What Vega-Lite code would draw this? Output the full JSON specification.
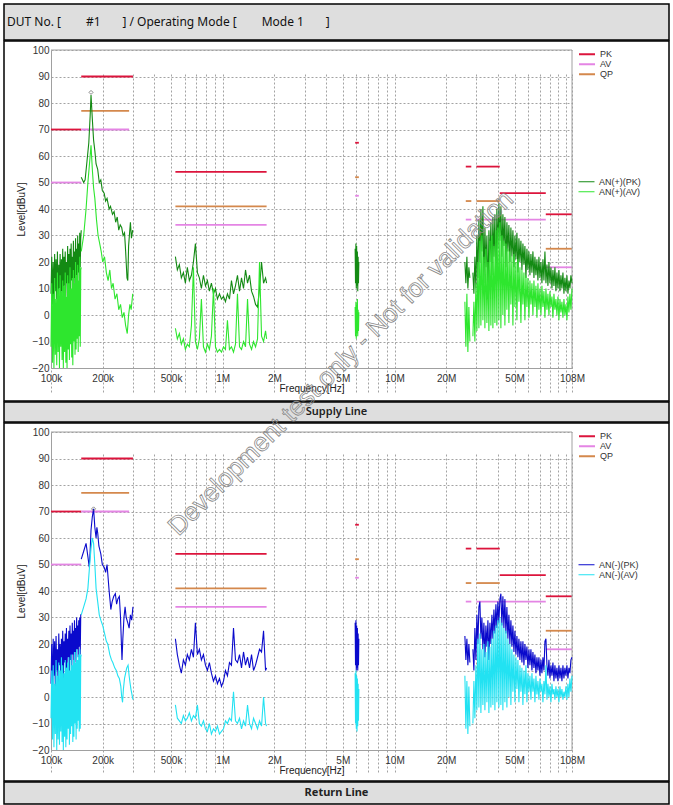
{
"$schema":"https://vega.github.io/schema/vega-lite/v6.json",
"padding":{"left":3,"top":3,"right":0,"bottom":0},
"background":"#ffffff",
"spacing":1,
"bounds":"flush",
"resolve":{"scale":{"color":"independent","stroke":"independent"},"legend":{"color":"independent","stroke":"independent"}},
"config":{"view":{"stroke":null}},
"datasets":{
"lim":[
{"k":"PK","f":100,"f2":150,"v":70},{"k":"AV","f":100,"f2":150,"v":50},
{"k":"PK","f":150,"f2":300,"v":90},{"k":"QP","f":150,"f2":285,"v":77},{"k":"AV","f":150,"f2":285,"v":70},
{"k":"PK","f":530,"f2":1800,"v":54},{"k":"QP","f":530,"f2":1800,"v":41},{"k":"AV","f":530,"f2":1800,"v":34},
{"k":"PK","f":5900,"f2":6200,"v":65},{"k":"QP","f":5900,"f2":6200,"v":52},{"k":"AV","f":5900,"f2":6200,"v":45},
{"k":"PK","f":26000,"f2":28000,"v":56},{"k":"QP","f":26000,"f2":28000,"v":43},{"k":"AV","f":26000,"f2":28000,"v":36},
{"k":"PK","f":30000,"f2":41000,"v":56},{"k":"QP","f":30000,"f2":41000,"v":43},{"k":"AV","f":30000,"f2":76000,"v":36},
{"k":"PK","f":41000,"f2":76000,"v":46},
{"k":"PK","f":76000,"f2":108000,"v":38},{"k":"QP","f":76000,"f2":108000,"v":25},{"k":"AV","f":76000,"f2":108000,"v":18}
],
"tPK":[
{"g":1,"f":100,"v":8},{"g":1,"f":101,"v":22},{"g":1,"f":102,"v":4},{"g":1,"f":103,"v":20},{"g":1,"f":104,"v":3},{"g":1,"f":105,"v":23},{"g":1,"f":106,"v":9},{"g":1,"f":107,"v":21},{"g":1,"f":108,"v":6},{"g":1,"f":109,"v":24},{"g":1,"f":110,"v":2},{"g":1,"f":111,"v":19},{"g":1,"f":112,"v":10},{"g":1,"f":113,"v":23},{"g":1,"f":114,"v":5},{"g":1,"f":115,"v":21},{"g":1,"f":116,"v":9},{"g":1,"f":117,"v":25},{"g":1,"f":118,"v":4},{"g":1,"f":119,"v":22},{"g":1,"f":120,"v":11},{"g":1,"f":121,"v":24},{"g":1,"f":122,"v":7},{"g":1,"f":123,"v":20},{"g":1,"f":124,"v":12},{"g":1,"f":125,"v":26},{"g":1,"f":126,"v":5},{"g":1,"f":127,"v":23},{"g":1,"f":128,"v":10},{"g":1,"f":129,"v":25},{"g":1,"f":130,"v":8},{"g":1,"f":131,"v":27},{"g":1,"f":132,"v":13},{"g":1,"f":133,"v":22},{"g":1,"f":134,"v":6},{"g":1,"f":135,"v":28},{"g":1,"f":136,"v":14},{"g":1,"f":137,"v":24},{"g":1,"f":138,"v":9},{"g":1,"f":139,"v":29},{"g":1,"f":140,"v":15},{"g":1,"f":141,"v":25},{"g":1,"f":142,"v":11},{"g":1,"f":143,"v":30},{"g":1,"f":144,"v":16},{"g":1,"f":145,"v":27},{"g":1,"f":146,"v":12},{"g":1,"f":147,"v":31},{"g":1,"f":148,"v":18},{"g":1,"f":149,"v":29},{"g":1,"f":150,"v":32},
{"g":2,"f":150,"v":52},{"g":2,"f":155,"v":50},{"g":2,"f":158,"v":51},{"g":2,"f":162,"v":58},{"g":2,"f":166,"v":65},{"g":2,"f":169,"v":75},{"g":2,"f":171,"v":83},{"g":2,"f":174,"v":74},{"g":2,"f":177,"v":66},{"g":2,"f":180,"v":62},{"g":2,"f":183,"v":57},{"g":2,"f":187,"v":55},{"g":2,"f":191,"v":50},{"g":2,"f":195,"v":51},{"g":2,"f":199,"v":47},{"g":2,"f":204,"v":46},{"g":2,"f":208,"v":43},{"g":2,"f":212,"v":44},{"g":2,"f":218,"v":40},{"g":2,"f":222,"v":41},{"g":2,"f":228,"v":38},{"g":2,"f":233,"v":39},{"g":2,"f":238,"v":35},{"g":2,"f":243,"v":37},{"g":2,"f":248,"v":32},{"g":2,"f":253,"v":34},{"g":2,"f":258,"v":33},{"g":2,"f":263,"v":30},{"g":2,"f":268,"v":31},{"g":2,"f":272,"v":24},{"g":2,"f":277,"v":14},{"g":2,"f":280,"v":13},{"g":2,"f":283,"v":26},{"g":2,"f":286,"v":30},{"g":2,"f":290,"v":35},{"g":2,"f":294,"v":29},{"g":2,"f":299,"v":32},
{"g":3,"f":530,"v":22},{"g":3,"f":544,"v":17},{"g":3,"f":559,"v":19},{"g":3,"f":574,"v":14},{"g":3,"f":590,"v":16},{"g":3,"f":606,"v":12},{"g":3,"f":622,"v":18},{"g":3,"f":639,"v":13},{"g":3,"f":657,"v":15},{"g":3,"f":675,"v":20},{"g":3,"f":693,"v":27},{"g":3,"f":712,"v":16},{"g":3,"f":731,"v":14},{"g":3,"f":751,"v":10},{"g":3,"f":772,"v":15},{"g":3,"f":793,"v":11},{"g":3,"f":814,"v":13},{"g":3,"f":836,"v":9},{"g":3,"f":859,"v":12},{"g":3,"f":883,"v":8},{"g":3,"f":907,"v":10},{"g":3,"f":931,"v":6},{"g":3,"f":957,"v":8},{"g":3,"f":983,"v":6},{"g":3,"f":1010,"v":7},{"g":3,"f":1037,"v":5},{"g":3,"f":1065,"v":8},{"g":3,"f":1094,"v":6},{"g":3,"f":1124,"v":13},{"g":3,"f":1155,"v":8},{"g":3,"f":1186,"v":11},{"g":3,"f":1218,"v":15},{"g":3,"f":1252,"v":9},{"g":3,"f":1286,"v":14},{"g":3,"f":1321,"v":10},{"g":3,"f":1357,"v":17},{"g":3,"f":1394,"v":12},{"g":3,"f":1432,"v":15},{"g":3,"f":1471,"v":9},{"g":3,"f":1511,"v":7},{"g":3,"f":1552,"v":4},{"g":3,"f":1594,"v":3},{"g":3,"f":1637,"v":10},{"g":3,"f":1682,"v":20},{"g":3,"f":1728,"v":12},{"g":3,"f":1775,"v":14},{"g":3,"f":1800,"v":12},
{"g":4,"f":5900,"v":25},{"g":4,"f":5930,"v":12},{"g":4,"f":5960,"v":27},{"g":4,"f":5990,"v":10},{"g":4,"f":6020,"v":26},{"g":4,"f":6050,"v":11},{"g":4,"f":6080,"v":24},{"g":4,"f":6110,"v":9},{"g":4,"f":6140,"v":22},{"g":4,"f":6170,"v":12},{"g":4,"f":6200,"v":20},
{"g":5,"f":25690,"v":20},{"g":5,"f":26040,"v":12},{"g":5,"f":26390,"v":22},{"g":5,"f":26740,"v":10},{"g":5,"f":27100,"v":18},{"g":5,"f":27470,"v":14},
{"g":6,"f":28600,"v":16},{"g":6,"f":28990,"v":8},{"g":6,"f":29380,"v":22},{"g":6,"f":29780,"v":10},{"g":6,"f":30180,"v":30},{"g":6,"f":30590,"v":14},{"g":6,"f":31000,"v":36},{"g":6,"f":31420,"v":20},{"g":6,"f":31840,"v":40},{"g":6,"f":32270,"v":24},{"g":6,"f":32710,"v":41},{"g":6,"f":33150,"v":12},{"g":6,"f":33600,"v":33},{"g":6,"f":34050,"v":18},{"g":6,"f":34510,"v":30},{"g":6,"f":34980,"v":6},{"g":6,"f":35450,"v":32},{"g":6,"f":35930,"v":20},{"g":6,"f":36410,"v":35},{"g":6,"f":36900,"v":15},{"g":6,"f":37400,"v":37},{"g":6,"f":37910,"v":22},{"g":6,"f":38420,"v":38},{"g":6,"f":38940,"v":12},{"g":6,"f":39450,"v":40},{"g":6,"f":39980,"v":25},{"g":6,"f":40530,"v":42},{"g":6,"f":41080,"v":28},{"g":6,"f":41630,"v":41},{"g":6,"f":42190,"v":22},{"g":6,"f":42760,"v":38},{"g":6,"f":43340,"v":26},{"g":6,"f":43930,"v":37},{"g":6,"f":44520,"v":18},{"g":6,"f":45120,"v":35},{"g":6,"f":45730,"v":24},{"g":6,"f":46350,"v":34},{"g":6,"f":46970,"v":20},{"g":6,"f":47610,"v":33},{"g":6,"f":48250,"v":22},{"g":6,"f":48910,"v":32},{"g":6,"f":49570,"v":18},{"g":6,"f":50240,"v":30},{"g":6,"f":50920,"v":21},{"g":6,"f":51610,"v":31},{"g":6,"f":52310,"v":16},{"g":6,"f":53010,"v":29},{"g":6,"f":53730,"v":20},{"g":6,"f":54450,"v":28},{"g":6,"f":55190,"v":17},{"g":6,"f":55930,"v":27},{"g":6,"f":56690,"v":19},{"g":6,"f":57450,"v":26},{"g":6,"f":58230,"v":14},{"g":6,"f":59020,"v":25},{"g":6,"f":59810,"v":17},{"g":6,"f":60620,"v":24},{"g":6,"f":61440,"v":15},{"g":6,"f":62270,"v":23},{"g":6,"f":63110,"v":16},{"g":6,"f":63960,"v":24},{"g":6,"f":64830,"v":14},{"g":6,"f":65700,"v":22},{"g":6,"f":66590,"v":15},{"g":6,"f":67490,"v":21},{"g":6,"f":68400,"v":13},{"g":6,"f":69320,"v":22},{"g":6,"f":70260,"v":14},{"g":6,"f":71210,"v":20},{"g":6,"f":72170,"v":12},{"g":6,"f":73140,"v":21},{"g":6,"f":74130,"v":13},{"g":6,"f":75130,"v":24},{"g":6,"f":76150,"v":12},{"g":6,"f":77180,"v":19},{"g":6,"f":78220,"v":11},{"g":6,"f":79270,"v":20},{"g":6,"f":80340,"v":12},{"g":6,"f":81430,"v":18},{"g":6,"f":82530,"v":10},{"g":6,"f":83640,"v":17},{"g":6,"f":84770,"v":11},{"g":6,"f":85910,"v":18},{"g":6,"f":87070,"v":9},{"g":6,"f":88250,"v":16},{"g":6,"f":89440,"v":10},{"g":6,"f":90640,"v":17},{"g":6,"f":91870,"v":9},{"g":6,"f":93110,"v":15},{"g":6,"f":94360,"v":10},{"g":6,"f":95640,"v":16},{"g":6,"f":96930,"v":8},{"g":6,"f":98230,"v":14},{"g":6,"f":99560,"v":9},{"g":6,"f":100900,"v":15},{"g":6,"f":102260,"v":8},{"g":6,"f":103640,"v":13},{"g":6,"f":105040,"v":10},{"g":6,"f":106450,"v":15},{"g":6,"f":108000,"v":12}
],
"tAV":[
{"g":1,"f":100,"v":-12},{"g":1,"f":101,"v":12},{"g":1,"f":102,"v":-18},{"g":1,"f":103,"v":8},{"g":1,"f":104,"v":-20},{"g":1,"f":105,"v":14},{"g":1,"f":106,"v":-15},{"g":1,"f":107,"v":6},{"g":1,"f":108,"v":-19},{"g":1,"f":109,"v":16},{"g":1,"f":110,"v":-14},{"g":1,"f":111,"v":10},{"g":1,"f":112,"v":-20},{"g":1,"f":113,"v":15},{"g":1,"f":114,"v":-12},{"g":1,"f":115,"v":9},{"g":1,"f":116,"v":-17},{"g":1,"f":117,"v":13},{"g":1,"f":118,"v":-20},{"g":1,"f":119,"v":11},{"g":1,"f":120,"v":-14},{"g":1,"f":121,"v":16},{"g":1,"f":122,"v":-18},{"g":1,"f":123,"v":7},{"g":1,"f":124,"v":-20},{"g":1,"f":125,"v":15},{"g":1,"f":126,"v":-13},{"g":1,"f":127,"v":12},{"g":1,"f":128,"v":-17},{"g":1,"f":129,"v":18},{"g":1,"f":130,"v":-11},{"g":1,"f":131,"v":10},{"g":1,"f":132,"v":-16},{"g":1,"f":133,"v":14},{"g":1,"f":134,"v":-19},{"g":1,"f":135,"v":17},{"g":1,"f":136,"v":-10},{"g":1,"f":137,"v":12},{"g":1,"f":138,"v":-15},{"g":1,"f":139,"v":20},{"g":1,"f":140,"v":-13},{"g":1,"f":141,"v":15},{"g":1,"f":142,"v":-9},{"g":1,"f":143,"v":19},{"g":1,"f":144,"v":-14},{"g":1,"f":145,"v":13},{"g":1,"f":146,"v":-8},{"g":1,"f":147,"v":22},{"g":1,"f":148,"v":-12},{"g":1,"f":149,"v":17},{"g":1,"f":150,"v":18},
{"g":2,"f":150,"v":24},{"g":2,"f":155,"v":30},{"g":2,"f":160,"v":40},{"g":2,"f":164,"v":50},{"g":2,"f":168,"v":58},{"g":2,"f":171,"v":64},{"g":2,"f":174,"v":55},{"g":2,"f":177,"v":48},{"g":2,"f":180,"v":44},{"g":2,"f":184,"v":36},{"g":2,"f":188,"v":30},{"g":2,"f":192,"v":27},{"g":2,"f":196,"v":24},{"g":2,"f":200,"v":20},{"g":2,"f":205,"v":22},{"g":2,"f":210,"v":16},{"g":2,"f":215,"v":13},{"g":2,"f":220,"v":17},{"g":2,"f":225,"v":10},{"g":2,"f":230,"v":12},{"g":2,"f":236,"v":6},{"g":2,"f":242,"v":8},{"g":2,"f":248,"v":2},{"g":2,"f":254,"v":4},{"g":2,"f":260,"v":-1},{"g":2,"f":266,"v":1},{"g":2,"f":272,"v":-4},{"g":2,"f":278,"v":-7},{"g":2,"f":283,"v":0},{"g":2,"f":288,"v":4},{"g":2,"f":293,"v":2},{"g":2,"f":299,"v":8},
{"g":3,"f":530,"v":-5},{"g":3,"f":544,"v":-9},{"g":3,"f":559,"v":-7},{"g":3,"f":574,"v":-11},{"g":3,"f":590,"v":-9},{"g":3,"f":606,"v":-13},{"g":3,"f":622,"v":-11},{"g":3,"f":639,"v":-12},{"g":3,"f":657,"v":-4},{"g":3,"f":675,"v":18},{"g":3,"f":693,"v":-10},{"g":3,"f":712,"v":-13},{"g":3,"f":731,"v":-9},{"g":3,"f":751,"v":6},{"g":3,"f":772,"v":-12},{"g":3,"f":793,"v":-14},{"g":3,"f":814,"v":-11},{"g":3,"f":836,"v":-13},{"g":3,"f":859,"v":-8},{"g":3,"f":883,"v":10},{"g":3,"f":907,"v":-12},{"g":3,"f":931,"v":-14},{"g":3,"f":957,"v":-13},{"g":3,"f":983,"v":-14},{"g":3,"f":1010,"v":-12},{"g":3,"f":1037,"v":-13},{"g":3,"f":1065,"v":-2},{"g":3,"f":1094,"v":-13},{"g":3,"f":1124,"v":-12},{"g":3,"f":1155,"v":-14},{"g":3,"f":1186,"v":-11},{"g":3,"f":1218,"v":8},{"g":3,"f":1252,"v":-12},{"g":3,"f":1286,"v":-13},{"g":3,"f":1321,"v":-10},{"g":3,"f":1357,"v":-12},{"g":3,"f":1394,"v":6},{"g":3,"f":1432,"v":-11},{"g":3,"f":1471,"v":-13},{"g":3,"f":1511,"v":-10},{"g":3,"f":1552,"v":-12},{"g":3,"f":1594,"v":-9},{"g":3,"f":1637,"v":20},{"g":3,"f":1682,"v":-8},{"g":3,"f":1728,"v":-10},{"g":3,"f":1775,"v":-6},{"g":3,"f":1800,"v":-9},
{"g":4,"f":5900,"v":3},{"g":4,"f":5930,"v":-8},{"g":4,"f":5960,"v":5},{"g":4,"f":5990,"v":-9},{"g":4,"f":6020,"v":4},{"g":4,"f":6050,"v":-7},{"g":4,"f":6080,"v":6},{"g":4,"f":6110,"v":-8},{"g":4,"f":6140,"v":2},{"g":4,"f":6170,"v":-6},{"g":4,"f":6200,"v":1},
{"g":5,"f":25690,"v":5},{"g":5,"f":26040,"v":-12},{"g":5,"f":26390,"v":8},{"g":5,"f":26740,"v":-14},{"g":5,"f":27100,"v":3},{"g":5,"f":27470,"v":-10},
{"g":6,"f":28600,"v":-8},{"g":6,"f":28990,"v":5},{"g":6,"f":29380,"v":-10},{"g":6,"f":29780,"v":12},{"g":6,"f":30180,"v":-6},{"g":6,"f":30590,"v":20},{"g":6,"f":31000,"v":-5},{"g":6,"f":31420,"v":28},{"g":6,"f":31840,"v":-4},{"g":6,"f":32270,"v":30},{"g":6,"f":32710,"v":-2},{"g":6,"f":33150,"v":22},{"g":6,"f":33600,"v":-5},{"g":6,"f":34050,"v":25},{"g":6,"f":34510,"v":-3},{"g":6,"f":34980,"v":20},{"g":6,"f":35450,"v":-6},{"g":6,"f":35930,"v":28},{"g":6,"f":36410,"v":-4},{"g":6,"f":36900,"v":30},{"g":6,"f":37400,"v":-5},{"g":6,"f":37910,"v":26},{"g":6,"f":38420,"v":-3},{"g":6,"f":38940,"v":32},{"g":6,"f":39450,"v":-4},{"g":6,"f":39980,"v":33},{"g":6,"f":40530,"v":-2},{"g":6,"f":41080,"v":35},{"g":6,"f":41630,"v":-5},{"g":6,"f":42190,"v":30},{"g":6,"f":42760,"v":0},{"g":6,"f":43340,"v":28},{"g":6,"f":43930,"v":-4},{"g":6,"f":44520,"v":27},{"g":6,"f":45120,"v":2},{"g":6,"f":45730,"v":25},{"g":6,"f":46350,"v":-3},{"g":6,"f":46970,"v":24},{"g":6,"f":47610,"v":4},{"g":6,"f":48250,"v":22},{"g":6,"f":48910,"v":-4},{"g":6,"f":49570,"v":23},{"g":6,"f":50240,"v":3},{"g":6,"f":50920,"v":20},{"g":6,"f":51610,"v":-2},{"g":6,"f":52310,"v":21},{"g":6,"f":53010,"v":5},{"g":6,"f":53730,"v":18},{"g":6,"f":54450,"v":-3},{"g":6,"f":55190,"v":17},{"g":6,"f":55930,"v":4},{"g":6,"f":56690,"v":16},{"g":6,"f":57450,"v":-2},{"g":6,"f":58230,"v":15},{"g":6,"f":59020,"v":3},{"g":6,"f":59810,"v":14},{"g":6,"f":60620,"v":-1},{"g":6,"f":61440,"v":13},{"g":6,"f":62270,"v":4},{"g":6,"f":63110,"v":12},{"g":6,"f":63960,"v":0},{"g":6,"f":64830,"v":13},{"g":6,"f":65700,"v":3},{"g":6,"f":66590,"v":11},{"g":6,"f":67490,"v":-1},{"g":6,"f":68400,"v":12},{"g":6,"f":69320,"v":2},{"g":6,"f":70260,"v":10},{"g":6,"f":71210,"v":0},{"g":6,"f":72170,"v":11},{"g":6,"f":73140,"v":3},{"g":6,"f":74130,"v":9},{"g":6,"f":75130,"v":-1},{"g":6,"f":76150,"v":10},{"g":6,"f":77180,"v":2},{"g":6,"f":78220,"v":8},{"g":6,"f":79270,"v":0},{"g":6,"f":80340,"v":9},{"g":6,"f":81430,"v":3},{"g":6,"f":82530,"v":7},{"g":6,"f":83640,"v":-1},{"g":6,"f":84770,"v":8},{"g":6,"f":85910,"v":2},{"g":6,"f":87070,"v":6},{"g":6,"f":88250,"v":0},{"g":6,"f":89440,"v":7},{"g":6,"f":90640,"v":-2},{"g":6,"f":91870,"v":6},{"g":6,"f":93110,"v":1},{"g":6,"f":94360,"v":5},{"g":6,"f":95640,"v":-1},{"g":6,"f":96930,"v":6},{"g":6,"f":98230,"v":0},{"g":6,"f":99560,"v":4},{"g":6,"f":100900,"v":-2},{"g":6,"f":102260,"v":7},{"g":6,"f":103640,"v":1},{"g":6,"f":105040,"v":8},{"g":6,"f":106450,"v":2},{"g":6,"f":108000,"v":10}
],
"bPK":[
{"g":1,"f":100,"v":5},{"g":1,"f":101,"v":20},{"g":1,"f":102,"v":-2},{"g":1,"f":103,"v":22},{"g":1,"f":104,"v":8},{"g":1,"f":105,"v":21},{"g":1,"f":106,"v":3},{"g":1,"f":107,"v":23},{"g":1,"f":108,"v":10},{"g":1,"f":109,"v":18},{"g":1,"f":110,"v":4},{"g":1,"f":111,"v":24},{"g":1,"f":112,"v":12},{"g":1,"f":113,"v":20},{"g":1,"f":114,"v":6},{"g":1,"f":115,"v":22},{"g":1,"f":116,"v":9},{"g":1,"f":117,"v":25},{"g":1,"f":118,"v":7},{"g":1,"f":119,"v":21},{"g":1,"f":120,"v":13},{"g":1,"f":121,"v":24},{"g":1,"f":122,"v":6},{"g":1,"f":123,"v":26},{"g":1,"f":124,"v":11},{"g":1,"f":125,"v":22},{"g":1,"f":126,"v":15},{"g":1,"f":127,"v":25},{"g":1,"f":128,"v":8},{"g":1,"f":129,"v":27},{"g":1,"f":130,"v":14},{"g":1,"f":131,"v":24},{"g":1,"f":132,"v":10},{"g":1,"f":133,"v":28},{"g":1,"f":134,"v":16},{"g":1,"f":135,"v":25},{"g":1,"f":136,"v":12},{"g":1,"f":137,"v":29},{"g":1,"f":138,"v":17},{"g":1,"f":139,"v":26},{"g":1,"f":140,"v":13},{"g":1,"f":141,"v":30},{"g":1,"f":142,"v":18},{"g":1,"f":143,"v":27},{"g":1,"f":144,"v":15},{"g":1,"f":145,"v":29},{"g":1,"f":146,"v":19},{"g":1,"f":147,"v":30},{"g":1,"f":148,"v":16},{"g":1,"f":149,"v":31},{"g":1,"f":150,"v":31},
{"g":2,"f":150,"v":52},{"g":2,"f":155,"v":55},{"g":2,"f":160,"v":58},{"g":2,"f":164,"v":53},{"g":2,"f":167,"v":49},{"g":2,"f":169,"v":55},{"g":2,"f":171,"v":63},{"g":2,"f":174,"v":68},{"g":2,"f":177,"v":71},{"g":2,"f":180,"v":64},{"g":2,"f":183,"v":60},{"g":2,"f":185,"v":64},{"g":2,"f":187,"v":62},{"g":2,"f":190,"v":57},{"g":2,"f":195,"v":54},{"g":2,"f":199,"v":50},{"g":2,"f":204,"v":49},{"g":2,"f":208,"v":47},{"g":2,"f":212,"v":50},{"g":2,"f":215,"v":45},{"g":2,"f":218,"v":40},{"g":2,"f":221,"v":36},{"g":2,"f":223,"v":33},{"g":2,"f":227,"v":36},{"g":2,"f":232,"v":38},{"g":2,"f":237,"v":39},{"g":2,"f":241,"v":35},{"g":2,"f":245,"v":37},{"g":2,"f":250,"v":38},{"g":2,"f":254,"v":30},{"g":2,"f":257,"v":20},{"g":2,"f":259,"v":14},{"g":2,"f":262,"v":22},{"g":2,"f":266,"v":30},{"g":2,"f":270,"v":34},{"g":2,"f":274,"v":30},{"g":2,"f":280,"v":28},{"g":2,"f":285,"v":26},{"g":2,"f":290,"v":31},{"g":2,"f":295,"v":29},{"g":2,"f":300,"v":34},
{"g":3,"f":530,"v":22},{"g":3,"f":544,"v":16},{"g":3,"f":559,"v":12},{"g":3,"f":574,"v":9},{"g":3,"f":590,"v":14},{"g":3,"f":606,"v":12},{"g":3,"f":622,"v":16},{"g":3,"f":639,"v":14},{"g":3,"f":657,"v":18},{"g":3,"f":675,"v":15},{"g":3,"f":693,"v":28},{"g":3,"f":712,"v":16},{"g":3,"f":731,"v":18},{"g":3,"f":751,"v":14},{"g":3,"f":772,"v":16},{"g":3,"f":793,"v":12},{"g":3,"f":814,"v":10},{"g":3,"f":836,"v":13},{"g":3,"f":859,"v":9},{"g":3,"f":883,"v":6},{"g":3,"f":907,"v":8},{"g":3,"f":931,"v":5},{"g":3,"f":957,"v":7},{"g":3,"f":983,"v":4},{"g":3,"f":1010,"v":6},{"g":3,"f":1037,"v":10},{"g":3,"f":1065,"v":8},{"g":3,"f":1094,"v":13},{"g":3,"f":1124,"v":12},{"g":3,"f":1155,"v":26},{"g":3,"f":1186,"v":14},{"g":3,"f":1218,"v":13},{"g":3,"f":1252,"v":16},{"g":3,"f":1286,"v":11},{"g":3,"f":1321,"v":17},{"g":3,"f":1357,"v":12},{"g":3,"f":1394,"v":15},{"g":3,"f":1432,"v":11},{"g":3,"f":1471,"v":16},{"g":3,"f":1511,"v":10},{"g":3,"f":1552,"v":12},{"g":3,"f":1594,"v":15},{"g":3,"f":1637,"v":18},{"g":3,"f":1682,"v":17},{"g":3,"f":1728,"v":25},{"g":3,"f":1775,"v":10},{"g":3,"f":1800,"v":11},
{"g":4,"f":5900,"v":28},{"g":4,"f":5930,"v":12},{"g":4,"f":5960,"v":29},{"g":4,"f":5990,"v":10},{"g":4,"f":6020,"v":27},{"g":4,"f":6050,"v":11},{"g":4,"f":6080,"v":26},{"g":4,"f":6110,"v":10},{"g":4,"f":6140,"v":24},{"g":4,"f":6170,"v":12},{"g":4,"f":6200,"v":22},
{"g":5,"f":25690,"v":23},{"g":5,"f":26040,"v":14},{"g":5,"f":26390,"v":22},{"g":5,"f":26740,"v":12},{"g":5,"f":27100,"v":20},{"g":5,"f":27470,"v":13},
{"g":6,"f":28600,"v":18},{"g":6,"f":28990,"v":10},{"g":6,"f":29380,"v":26},{"g":6,"f":29780,"v":14},{"g":6,"f":30180,"v":31},{"g":6,"f":30590,"v":20},{"g":6,"f":31000,"v":34},{"g":6,"f":31420,"v":36},{"g":6,"f":31840,"v":22},{"g":6,"f":32270,"v":30},{"g":6,"f":32710,"v":18},{"g":6,"f":33150,"v":28},{"g":6,"f":33600,"v":15},{"g":6,"f":34050,"v":27},{"g":6,"f":34510,"v":19},{"g":6,"f":34980,"v":29},{"g":6,"f":35450,"v":14},{"g":6,"f":35930,"v":28},{"g":6,"f":36410,"v":20},{"g":6,"f":36900,"v":31},{"g":6,"f":37400,"v":22},{"g":6,"f":37910,"v":33},{"g":6,"f":38420,"v":24},{"g":6,"f":38940,"v":35},{"g":6,"f":39450,"v":26},{"g":6,"f":39980,"v":36},{"g":6,"f":40530,"v":28},{"g":6,"f":41080,"v":37},{"g":6,"f":41630,"v":39},{"g":6,"f":42190,"v":27},{"g":6,"f":42760,"v":38},{"g":6,"f":43340,"v":26},{"g":6,"f":43930,"v":37},{"g":6,"f":44520,"v":24},{"g":6,"f":45120,"v":34},{"g":6,"f":45730,"v":22},{"g":6,"f":46350,"v":31},{"g":6,"f":46970,"v":20},{"g":6,"f":47610,"v":29},{"g":6,"f":48250,"v":19},{"g":6,"f":48910,"v":27},{"g":6,"f":49570,"v":17},{"g":6,"f":50240,"v":25},{"g":6,"f":50920,"v":16},{"g":6,"f":51610,"v":23},{"g":6,"f":52310,"v":15},{"g":6,"f":53010,"v":22},{"g":6,"f":53730,"v":14},{"g":6,"f":54450,"v":21},{"g":6,"f":55190,"v":13},{"g":6,"f":55930,"v":21},{"g":6,"f":56690,"v":12},{"g":6,"f":57450,"v":20},{"g":6,"f":58230,"v":14},{"g":6,"f":59020,"v":19},{"g":6,"f":59810,"v":11},{"g":6,"f":60620,"v":18},{"g":6,"f":61440,"v":12},{"g":6,"f":62270,"v":18},{"g":6,"f":63110,"v":10},{"g":6,"f":63960,"v":17},{"g":6,"f":64830,"v":11},{"g":6,"f":65700,"v":16},{"g":6,"f":66590,"v":9},{"g":6,"f":67490,"v":15},{"g":6,"f":68400,"v":10},{"g":6,"f":69320,"v":15},{"g":6,"f":70260,"v":8},{"g":6,"f":71210,"v":14},{"g":6,"f":72170,"v":9},{"g":6,"f":73140,"v":15},{"g":6,"f":74130,"v":10},{"g":6,"f":75130,"v":21},{"g":6,"f":76150,"v":22},{"g":6,"f":77180,"v":12},{"g":6,"f":78220,"v":8},{"g":6,"f":79270,"v":14},{"g":6,"f":80340,"v":7},{"g":6,"f":81430,"v":12},{"g":6,"f":82530,"v":8},{"g":6,"f":83640,"v":13},{"g":6,"f":84770,"v":6},{"g":6,"f":85910,"v":12},{"g":6,"f":87070,"v":7},{"g":6,"f":88250,"v":11},{"g":6,"f":89440,"v":6},{"g":6,"f":90640,"v":12},{"g":6,"f":91870,"v":7},{"g":6,"f":93110,"v":11},{"g":6,"f":94360,"v":6},{"g":6,"f":95640,"v":12},{"g":6,"f":96930,"v":7},{"g":6,"f":98230,"v":11},{"g":6,"f":99560,"v":8},{"g":6,"f":100900,"v":12},{"g":6,"f":102260,"v":7},{"g":6,"f":103640,"v":11},{"g":6,"f":105040,"v":9},{"g":6,"f":106450,"v":14},{"g":6,"f":108000,"v":15}
],
"bAV":[
{"g":1,"f":100,"v":-8},{"g":1,"f":101,"v":10},{"g":1,"f":102,"v":-16},{"g":1,"f":103,"v":12},{"g":1,"f":104,"v":-19},{"g":1,"f":105,"v":5},{"g":1,"f":106,"v":-14},{"g":1,"f":107,"v":14},{"g":1,"f":108,"v":-20},{"g":1,"f":109,"v":8},{"g":1,"f":110,"v":-16},{"g":1,"f":111,"v":13},{"g":1,"f":112,"v":-18},{"g":1,"f":113,"v":10},{"g":1,"f":114,"v":-13},{"g":1,"f":115,"v":15},{"g":1,"f":116,"v":-17},{"g":1,"f":117,"v":12},{"g":1,"f":118,"v":-20},{"g":1,"f":119,"v":9},{"g":1,"f":120,"v":-15},{"g":1,"f":121,"v":14},{"g":1,"f":122,"v":-19},{"g":1,"f":123,"v":11},{"g":1,"f":124,"v":-16},{"g":1,"f":125,"v":13},{"g":1,"f":126,"v":-12},{"g":1,"f":127,"v":15},{"g":1,"f":128,"v":-18},{"g":1,"f":129,"v":10},{"g":1,"f":130,"v":-14},{"g":1,"f":131,"v":16},{"g":1,"f":132,"v":-11},{"g":1,"f":133,"v":12},{"g":1,"f":134,"v":-17},{"g":1,"f":135,"v":14},{"g":1,"f":136,"v":-15},{"g":1,"f":137,"v":17},{"g":1,"f":138,"v":-10},{"g":1,"f":139,"v":13},{"g":1,"f":140,"v":-16},{"g":1,"f":141,"v":18},{"g":1,"f":142,"v":-12},{"g":1,"f":143,"v":14},{"g":1,"f":144,"v":-9},{"g":1,"f":145,"v":16},{"g":1,"f":146,"v":-13},{"g":1,"f":147,"v":18},{"g":1,"f":148,"v":-12},{"g":1,"f":149,"v":15},{"g":1,"f":150,"v":16},
{"g":2,"f":150,"v":31},{"g":2,"f":155,"v":34},{"g":2,"f":160,"v":37},{"g":2,"f":164,"v":41},{"g":2,"f":168,"v":50},{"g":2,"f":171,"v":56},{"g":2,"f":174,"v":60},{"g":2,"f":177,"v":58},{"g":2,"f":180,"v":50},{"g":2,"f":183,"v":41},{"g":2,"f":187,"v":36},{"g":2,"f":191,"v":31},{"g":2,"f":195,"v":29},{"g":2,"f":200,"v":27},{"g":2,"f":205,"v":24},{"g":2,"f":210,"v":21},{"g":2,"f":214,"v":20},{"g":2,"f":220,"v":16},{"g":2,"f":225,"v":14},{"g":2,"f":229,"v":13},{"g":2,"f":235,"v":11},{"g":2,"f":240,"v":10},{"g":2,"f":245,"v":8},{"g":2,"f":250,"v":7},{"g":2,"f":255,"v":4},{"g":2,"f":258,"v":0},{"g":2,"f":261,"v":-2},{"g":2,"f":264,"v":3},{"g":2,"f":268,"v":7},{"g":2,"f":272,"v":9},{"g":2,"f":276,"v":11},{"g":2,"f":281,"v":12},{"g":2,"f":285,"v":8},{"g":2,"f":289,"v":5},{"g":2,"f":292,"v":3},{"g":2,"f":296,"v":1},{"g":2,"f":300,"v":-1},
{"g":3,"f":530,"v":-3},{"g":3,"f":544,"v":-8},{"g":3,"f":559,"v":-9},{"g":3,"f":574,"v":-10},{"g":3,"f":590,"v":-7},{"g":3,"f":606,"v":-9},{"g":3,"f":622,"v":-8},{"g":3,"f":639,"v":-6},{"g":3,"f":657,"v":-9},{"g":3,"f":675,"v":-7},{"g":3,"f":693,"v":-8},{"g":3,"f":712,"v":-3},{"g":3,"f":731,"v":-10},{"g":3,"f":751,"v":-11},{"g":3,"f":772,"v":-9},{"g":3,"f":793,"v":-12},{"g":3,"f":814,"v":-13},{"g":3,"f":836,"v":-10},{"g":3,"f":859,"v":-14},{"g":3,"f":883,"v":-12},{"g":3,"f":907,"v":-13},{"g":3,"f":931,"v":-11},{"g":3,"f":957,"v":-14},{"g":3,"f":983,"v":-13},{"g":3,"f":1010,"v":-12},{"g":3,"f":1037,"v":-9},{"g":3,"f":1065,"v":-10},{"g":3,"f":1094,"v":-8},{"g":3,"f":1124,"v":-9},{"g":3,"f":1155,"v":2},{"g":3,"f":1186,"v":-9},{"g":3,"f":1218,"v":-10},{"g":3,"f":1252,"v":-8},{"g":3,"f":1286,"v":-12},{"g":3,"f":1321,"v":-9},{"g":3,"f":1357,"v":-11},{"g":3,"f":1394,"v":-3},{"g":3,"f":1432,"v":-10},{"g":3,"f":1471,"v":-12},{"g":3,"f":1511,"v":-8},{"g":3,"f":1552,"v":-10},{"g":3,"f":1594,"v":-12},{"g":3,"f":1637,"v":-9},{"g":3,"f":1682,"v":-11},{"g":3,"f":1728,"v":0},{"g":3,"f":1775,"v":-10},{"g":3,"f":1800,"v":-11},
{"g":4,"f":5900,"v":9},{"g":4,"f":5930,"v":-10},{"g":4,"f":5960,"v":10},{"g":4,"f":5990,"v":-12},{"g":4,"f":6020,"v":8},{"g":4,"f":6050,"v":-13},{"g":4,"f":6080,"v":7},{"g":4,"f":6110,"v":-11},{"g":4,"f":6140,"v":5},{"g":4,"f":6170,"v":-9},{"g":4,"f":6200,"v":3},
{"g":5,"f":25690,"v":8},{"g":5,"f":26040,"v":-12},{"g":5,"f":26390,"v":6},{"g":5,"f":26740,"v":-14},{"g":5,"f":27100,"v":4},{"g":5,"f":27470,"v":-11},
{"g":6,"f":28600,"v":-10},{"g":6,"f":28990,"v":6},{"g":6,"f":29380,"v":-8},{"g":6,"f":29780,"v":12},{"g":6,"f":30180,"v":-5},{"g":6,"f":30590,"v":22},{"g":6,"f":31000,"v":-4},{"g":6,"f":31420,"v":24},{"g":6,"f":31840,"v":-6},{"g":6,"f":32270,"v":18},{"g":6,"f":32710,"v":-3},{"g":6,"f":33150,"v":20},{"g":6,"f":33600,"v":-5},{"g":6,"f":34050,"v":17},{"g":6,"f":34510,"v":-2},{"g":6,"f":34980,"v":21},{"g":6,"f":35450,"v":-6},{"g":6,"f":35930,"v":19},{"g":6,"f":36410,"v":-4},{"g":6,"f":36900,"v":22},{"g":6,"f":37400,"v":-3},{"g":6,"f":37910,"v":25},{"g":6,"f":38420,"v":-5},{"g":6,"f":38940,"v":27},{"g":6,"f":39450,"v":-2},{"g":6,"f":39980,"v":29},{"g":6,"f":40530,"v":-4},{"g":6,"f":41080,"v":30},{"g":6,"f":41630,"v":-3},{"g":6,"f":42190,"v":28},{"g":6,"f":42760,"v":-5},{"g":6,"f":43340,"v":26},{"g":6,"f":43930,"v":-2},{"g":6,"f":44520,"v":25},{"g":6,"f":45120,"v":-4},{"g":6,"f":45730,"v":22},{"g":6,"f":46350,"v":0},{"g":6,"f":46970,"v":20},{"g":6,"f":47610,"v":-3},{"g":6,"f":48250,"v":18},{"g":6,"f":48910,"v":2},{"g":6,"f":49570,"v":16},{"g":6,"f":50240,"v":-2},{"g":6,"f":50920,"v":15},{"g":6,"f":51610,"v":3},{"g":6,"f":52310,"v":14},{"g":6,"f":53010,"v":-2},{"g":6,"f":53730,"v":12},{"g":6,"f":54450,"v":2},{"g":6,"f":55190,"v":11},{"g":6,"f":55930,"v":-3},{"g":6,"f":56690,"v":10},{"g":6,"f":57450,"v":1},{"g":6,"f":58230,"v":12},{"g":6,"f":59020,"v":-2},{"g":6,"f":59810,"v":9},{"g":6,"f":60620,"v":2},{"g":6,"f":61440,"v":8},{"g":6,"f":62270,"v":-1},{"g":6,"f":63110,"v":9},{"g":6,"f":63960,"v":2},{"g":6,"f":64830,"v":7},{"g":6,"f":65700,"v":-2},{"g":6,"f":66590,"v":8},{"g":6,"f":67490,"v":1},{"g":6,"f":68400,"v":6},{"g":6,"f":69320,"v":-1},{"g":6,"f":70260,"v":7},{"g":6,"f":71210,"v":2},{"g":6,"f":72170,"v":5},{"g":6,"f":73140,"v":-2},{"g":6,"f":74130,"v":6},{"g":6,"f":75130,"v":1},{"g":6,"f":76150,"v":12},{"g":6,"f":77180,"v":-1},{"g":6,"f":78220,"v":5},{"g":6,"f":79270,"v":0},{"g":6,"f":80340,"v":4},{"g":6,"f":81430,"v":-2},{"g":6,"f":82530,"v":5},{"g":6,"f":83640,"v":1},{"g":6,"f":84770,"v":3},{"g":6,"f":85910,"v":-1},{"g":6,"f":87070,"v":4},{"g":6,"f":88250,"v":0},{"g":6,"f":89440,"v":3},{"g":6,"f":90640,"v":-2},{"g":6,"f":91870,"v":4},{"g":6,"f":93110,"v":0},{"g":6,"f":94360,"v":3},{"g":6,"f":95640,"v":-1},{"g":6,"f":96930,"v":2},{"g":6,"f":98230,"v":0},{"g":6,"f":99560,"v":4},{"g":6,"f":100900,"v":-1},{"g":6,"f":102260,"v":5},{"g":6,"f":103640,"v":0},{"g":6,"f":105040,"v":7},{"g":6,"f":106450,"v":2},{"g":6,"f":108000,"v":8}
]
},
"vconcat":[
{"width":665,"height":36,"view":{"fill":"#dedede","stroke":"#000000","strokeWidth":1.5},
 "data":{"values":[{"s":"DUT No. [\u00a0\u00a0\u00a0\u00a0\u00a0\u00a0\u00a0\u00a0#1\u00a0\u00a0\u00a0\u00a0\u00a0\u00a0\u00a0] / Operating Mode [\u00a0\u00a0\u00a0\u00a0\u00a0\u00a0\u00a0\u00a0Mode 1\u00a0\u00a0\u00a0\u00a0\u00a0\u00a0\u00a0]"}]},
 "mark":{"type":"text","align":"left","baseline":"middle","dx":-329.5,"font":"Noto Sans","fontSize":12,"color":"#111111"},
 "encoding":{"text":{"field":"s"}}},
{"width":665,"height":360,"view":{"fill":"#ffffff","stroke":"#000000","strokeWidth":1.5},
 "encoding":{
  "x":{"field":"f","type":"quantitative","scale":{"type":"log","domain":[100,108000],"range":[47,568]},
   "axis":{"orient":"bottom","offset":-33,"title":"Frequency[Hz]","values":[100,200,300,400,500,600,700,800,900,1000,2000,3000,4000,5000,6000,7000,8000,9000,10000,20000,30000,40000,50000,60000,70000,80000,90000,100000,108000],
    "labelExpr":"indexof([100,200,500,1000,2000,5000,10000,20000,50000,108000], datum.value) < 0 ? '' : (datum.value < 1000 ? datum.value + 'k' : (datum.value / 1000) + 'M')",
    "labelOverlap":false,"labelFlush":false,"grid":true,"gridColor":"#8c8c8c","gridDash":[2,2],"gridWidth":0.8,"ticks":false,"domainColor":"#a0a0a0",
    "labelFont":"Liberation Sans","labelFontSize":10,"labelColor":"#333333","labelPadding":5,
    "titleFont":"Liberation Sans","titleFontSize":10,"titleFontWeight":"normal","titleColor":"#222222","titlePadding":0}},
  "y":{"field":"v","type":"quantitative","scale":{"domain":[-20,100],"range":[327,9],"nice":false,"zero":false},
   "axis":{"orient":"left","offset":-47,"title":"Level[dBuV]","values":[-20,-10,0,10,20,30,40,50,60,70,80,90,100],"labelFlush":false,"labelOverlap":false,
    "grid":true,"gridColor":"#8c8c8c","gridDash":[2,2],"gridWidth":0.8,"ticks":false,"domainColor":"#a0a0a0",
    "labelFont":"Liberation Sans","labelFontSize":10,"labelColor":"#333333","labelPadding":2,
    "titleFont":"Liberation Sans","titleFontSize":10,"titleFontWeight":"normal","titleColor":"#222222","titlePadding":6}}},
 "layer":[
  {"data":{"name":"lim"},"mark":{"type":"rule","strokeWidth":1.8},
   "encoding":{"x2":{"field":"f2"},
    "color":{"field":"k","type":"nominal","scale":{"domain":["PK","AV","QP"],"range":["#dc143c","#e485e4","#d4884c"]},
     "legend":{"orient":"none","legendX":574,"legendY":9,"title":null,"symbolType":"stroke","symbolSize":256,"symbolStrokeWidth":2,"labelFont":"Liberation Sans","labelFontSize":9,"labelColor":"#333333","clipHeight":8.5,"rowPadding":0,"labelOffset":4,"padding":0}}}},
  {"data":{"values":[{"f":100,"f2":108000,"v":100}]},"mark":{"type":"rule","color":"#a0a0a0","strokeWidth":1},
   "encoding":{"x2":{"field":"f2"}}},
  {"data":{"values":[{"f":108000,"v":-20,"v2":100}]},"mark":{"type":"rule","color":"#a0a0a0","strokeWidth":1},
   "encoding":{"y2":{"field":"v2"}}},
  {"data":{"name":"tPK"},"mark":{"type":"line","strokeWidth":1.1},
   "encoding":{"detail":{"field":"g","type":"nominal"},
    "stroke":{"datum":"AN(+)(PK)","type":"nominal","scale":{"domain":["AN(+)(PK)","AN(+)(AV)"],"range":["#138a13","#2ee62e"]},
     "legend":{"orient":"none","legendX":574,"legendY":136,"title":null,"symbolType":"stroke","symbolSize":256,"symbolStrokeWidth":1,"labelFont":"Liberation Sans","labelFontSize":9,"labelColor":"#333333","clipHeight":9.5,"rowPadding":0,"labelOffset":4,"padding":0}}}},
  {"data":{"name":"tAV"},"mark":{"type":"line","strokeWidth":1.1},
   "encoding":{"detail":{"field":"g","type":"nominal"},
    "stroke":{"datum":"AN(+)(AV)","type":"nominal","scale":{"domain":["AN(+)(PK)","AN(+)(AV)"],"range":["#138a13","#2ee62e"]},
     "legend":{"orient":"none","legendX":574,"legendY":136,"title":null,"symbolType":"stroke","symbolSize":256,"symbolStrokeWidth":1,"labelFont":"Liberation Sans","labelFontSize":9,"labelColor":"#333333","clipHeight":9.5,"rowPadding":0,"labelOffset":4,"padding":0}}}},
  {"data":{"values":[{"f":171,"v":84}]},"mark":{"type":"point","shape":"diamond","size":16,"filled":false,"color":"#555555","strokeWidth":1}}
 ]},
{"width":665,"height":20,"view":{"fill":"#dedede","stroke":"#000000","strokeWidth":1.5},
 "data":{"values":[{"s":"Supply Line"}]},
 "mark":{"type":"text","align":"center","baseline":"middle","font":"Noto Sans","fontSize":11,"fontWeight":600,"color":"#222222"},
 "encoding":{"text":{"field":"s"}}},
{"width":665,"height":358,"view":{"fill":"#ffffff","stroke":"#000000","strokeWidth":1.5},
 "encoding":{
  "x":{"field":"f","type":"quantitative","scale":{"type":"log","domain":[100,108000],"range":[47,568]},
   "axis":{"orient":"bottom","offset":-31,"title":"Frequency[Hz]","values":[100,200,300,400,500,600,700,800,900,1000,2000,3000,4000,5000,6000,7000,8000,9000,10000,20000,30000,40000,50000,60000,70000,80000,90000,100000,108000],
    "labelExpr":"indexof([100,200,500,1000,2000,5000,10000,20000,50000,108000], datum.value) < 0 ? '' : (datum.value < 1000 ? datum.value + 'k' : (datum.value / 1000) + 'M')",
    "labelOverlap":false,"labelFlush":false,"grid":true,"gridColor":"#8c8c8c","gridDash":[2,2],"gridWidth":0.8,"ticks":false,"domainColor":"#a0a0a0",
    "labelFont":"Liberation Sans","labelFontSize":10,"labelColor":"#333333","labelPadding":5,
    "titleFont":"Liberation Sans","titleFontSize":10,"titleFontWeight":"normal","titleColor":"#222222","titlePadding":0}},
  "y":{"field":"v","type":"quantitative","scale":{"domain":[-20,100],"range":[327,9],"nice":false,"zero":false},
   "axis":{"orient":"left","offset":-47,"title":"Level[dBuV]","values":[-20,-10,0,10,20,30,40,50,60,70,80,90,100],"labelFlush":false,"labelOverlap":false,
    "grid":true,"gridColor":"#8c8c8c","gridDash":[2,2],"gridWidth":0.8,"ticks":false,"domainColor":"#a0a0a0",
    "labelFont":"Liberation Sans","labelFontSize":10,"labelColor":"#333333","labelPadding":2,
    "titleFont":"Liberation Sans","titleFontSize":10,"titleFontWeight":"normal","titleColor":"#222222","titlePadding":6}}},
 "layer":[
  {"data":{"name":"lim"},"mark":{"type":"rule","strokeWidth":1.8},
   "encoding":{"x2":{"field":"f2"},
    "color":{"field":"k","type":"nominal","scale":{"domain":["PK","AV","QP"],"range":["#dc143c","#e485e4","#d4884c"]},
     "legend":{"orient":"none","legendX":574,"legendY":9,"title":null,"symbolType":"stroke","symbolSize":256,"symbolStrokeWidth":2,"labelFont":"Liberation Sans","labelFontSize":9,"labelColor":"#333333","clipHeight":8.5,"rowPadding":0,"labelOffset":4,"padding":0}}}},
  {"data":{"values":[{"f":100,"f2":108000,"v":100}]},"mark":{"type":"rule","color":"#a0a0a0","strokeWidth":1},
   "encoding":{"x2":{"field":"f2"}}},
  {"data":{"values":[{"f":108000,"v":-20,"v2":100}]},"mark":{"type":"rule","color":"#a0a0a0","strokeWidth":1},
   "encoding":{"y2":{"field":"v2"}}},
  {"data":{"name":"bPK"},"mark":{"type":"line","strokeWidth":1.1},
   "encoding":{"detail":{"field":"g","type":"nominal"},
    "stroke":{"datum":"AN(-)(PK)","type":"nominal","scale":{"domain":["AN(-)(PK)","AN(-)(AV)"],"range":["#0a0acc","#22e2f2"]},
     "legend":{"orient":"none","legendX":574,"legendY":137,"title":null,"symbolType":"stroke","symbolSize":256,"symbolStrokeWidth":1,"labelFont":"Liberation Sans","labelFontSize":9,"labelColor":"#333333","clipHeight":9.5,"rowPadding":0,"labelOffset":4,"padding":0}}}},
  {"data":{"name":"bAV"},"mark":{"type":"line","strokeWidth":1.1},
   "encoding":{"detail":{"field":"g","type":"nominal"},
    "stroke":{"datum":"AN(-)(AV)","type":"nominal","scale":{"domain":["AN(-)(PK)","AN(-)(AV)"],"range":["#0a0acc","#22e2f2"]},
     "legend":{"orient":"none","legendX":574,"legendY":137,"title":null,"symbolType":"stroke","symbolSize":256,"symbolStrokeWidth":1,"labelFont":"Liberation Sans","labelFontSize":9,"labelColor":"#333333","clipHeight":9.5,"rowPadding":0,"labelOffset":4,"padding":0}}}},
  {"data":{"values":[{"f":177,"v":71}]},"mark":{"type":"point","shape":"diamond","size":16,"filled":false,"color":"#555555","strokeWidth":1}},
  {"data":{"values":[{"f":4876,"v":126,"s":"Development test only - Not for validation"}]},
   "mark":{"type":"text","angle":-45,"align":"center","baseline":"middle","font":"Liberation Sans","fontSize":26,"fill":"transparent","stroke":"#8a8a8a","strokeWidth":0.8},
   "encoding":{"text":{"field":"s"}}}
 ]},
{"width":665,"height":22,"view":{"fill":"#dedede","stroke":"#000000","strokeWidth":1.5},
 "data":{"values":[{"s":"Return Line"}]},
 "mark":{"type":"text","align":"center","baseline":"middle","font":"Noto Sans","fontSize":11,"fontWeight":700,"color":"#222222"},
 "encoding":{"text":{"field":"s"}}}
]
}
